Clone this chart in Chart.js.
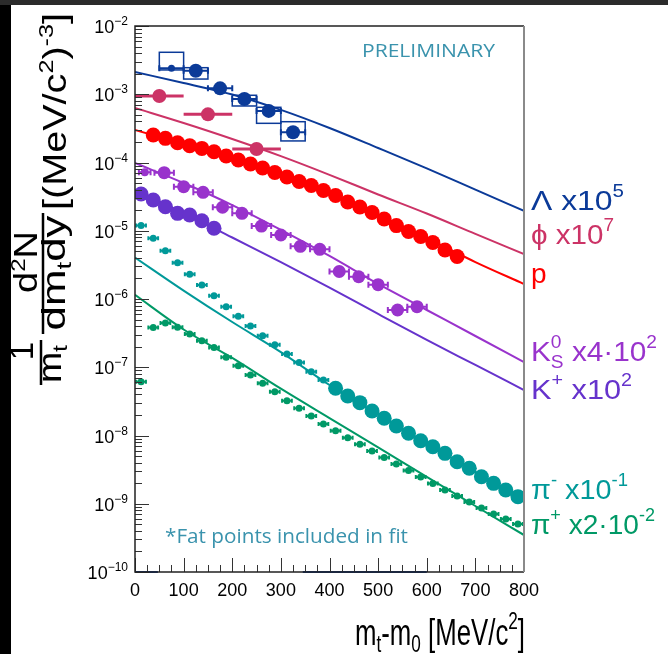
<!DOCTYPE html>
<html>
<head>
<meta charset="utf-8">
<script src="https://cdn.jsdelivr.net/npm/chart.js@4.4.1/dist/chart.umd.min.js"></script>
<style>
  html, body { margin: 0; padding: 0; }
  body { width: 668px; height: 654px; position: relative; overflow: hidden; background: #000; }
  #topbar { position: absolute; left: 0; top: 0; width: 668px; height: 5px; background: #2b2b2b; }
  #panel { position: absolute; left: 11px; top: 5px; width: 657px; height: 649px; background: #fff; }
  #spectra { position: absolute; left: 0; top: 0; }
</style>
</head>
<body>
<div id="topbar"></div>
<div id="panel"></div>
<canvas id="spectra" width="668" height="654"></canvas>
<script>
// m_t - m_0 grid used for the fit curves (MeV/c^2)
const fitX = [0, 100, 200, 300, 400, 500, 600, 700, 800];

// Lambda x10^5
const lamX = [75, 125, 175, 225, 275, 325];
const lamY = [2.40e-3, 2.21e-3, 1.22e-3, 8.5e-4, 5.7e-4, 2.77e-4];
const lamSysLo = [2.27e-3, 1.67e-3, null, 6.73e-4, 3.75e-4, 2.07e-4];
const lamSysHi = [4.12e-3, 2.45e-3, null, 9.66e-4, 6.44e-4, 3.96e-4];
const lamFit = [2.12e-3, 1.46e-3, 9.9e-4, 5.9e-4, 3.2e-4, 1.63e-4, 8.2e-5, 4.0e-5, 1.95e-5];

// phi x10^7
const phiX = [50, 150, 250];
const phiY = [9.42e-4, 5.08e-4, 1.58e-4];
const phiFit = [6.29e-4, 3.79e-4, 2.21e-4, 1.24e-4, 6.6e-5, 3.4e-5, 1.79e-5, 9.0e-6, 4.56e-6];

// protons
const pX = [37.5, 62.5, 87.5, 112.5, 137.5, 162.5, 187.5, 212.5, 237.5, 262.5, 287.5, 312.5, 337.5,
            362.5, 387.5, 412.5, 437.5, 462.5, 487.5, 512.5, 537.5, 562.5, 587.5, 612.5, 637.5, 662.5];
const pY = [2.53e-4, 2.26e-4, 1.95e-4, 1.76e-4, 1.61e-4, 1.44e-4, 1.245e-4, 1.09e-4, 9.5e-5, 8.3e-5,
            7.14e-5, 6.13e-5, 5.27e-5, 4.60e-5, 3.89e-5, 3.28e-5, 2.64e-5, 2.23e-5, 1.85e-5, 1.49e-5,
            1.19e-5, 9.75e-6, 8.24e-6, 6.73e-6, 5.22e-6, 4.20e-6];
const pFit = [2.99e-4, 1.87e-4, 1.16e-4, 6.56e-5, 3.45e-5, 1.70e-5, 7.83e-6, 3.48e-6, 1.66e-6];

// K0s x4*10^2 (first bin not used in the fit)
const ksLowX = [20];
const ksLowY = [7.18e-5];
const ksX = [60, 100, 140, 180, 220, 260, 300, 340, 380, 420, 460, 500, 540, 580];
const ksY = [7.09e-5, 4.42e-5, 3.66e-5, 2.21e-5, 1.80e-5, 1.17e-5, 8.66e-6, 5.92e-6, 5.35e-6,
             2.53e-6, 2.12e-6, 1.62e-6, 6.90e-7, 7.71e-7];
const ksFit = [9.83e-5, 5.01e-5, 2.38e-5, 1.03e-5, 4.27e-6, 1.66e-6, 6.90e-7, 2.87e-7, 1.19e-7];

// K+ x10^2
const kpX = [12.5, 37.5, 62.5, 87.5, 112.5, 137.5, 162.5];
const kpY = [3.45e-5, 2.82e-5, 2.25e-5, 1.80e-5, 1.70e-5, 1.40e-5, 1.09e-5];
const kpFit = [3.95e-5, 1.82e-5, 7.96e-6, 3.48e-6, 1.47e-6, 6.03e-7, 2.51e-7, 1.08e-7, 4.64e-8];

// pi- x10^-1 : low-mt bins (not fitted) and fitted bins
const pimLowX = [12.5, 37.5, 62.5, 87.5, 112.5, 137.5, 162.5, 187.5, 212.5, 237.5, 262.5, 287.5,
                 312.5, 337.5, 362.5, 387.5];
const pimLowY = [1.19e-5, 7.75e-6, 5.10e-6, 3.40e-6, 2.30e-6, 1.60e-6, 1.12e-6, 7.71e-7, 5.58e-7,
                 4.02e-7, 2.89e-7, 2.14e-7, 1.56e-7, 1.17e-7, 8.61e-8, 6.50e-8];
const pimX = [412.5, 437.5, 462.5, 487.5, 512.5, 537.5, 562.5, 587.5, 612.5, 637.5, 662.5, 687.5,
              712.5, 737.5, 762.5, 787.5];
const pimY = [4.92e-8, 3.79e-8, 3.03e-8, 2.29e-8, 1.79e-8, 1.38e-8, 1.08e-8, 8.39e-9, 6.85e-9,
              5.48e-9, 4.13e-9, 3.31e-9, 2.49e-9, 1.99e-9, 1.59e-9, 1.27e-9];
const pimFit = [4.06e-6, 1.33e-6, 4.60e-7, 1.67e-7, 5.50e-8, 2.03e-8, 7.63e-9, 2.92e-9, 1.135e-9];

// pi+ x2*10^-2
const pipX = [12.5, 37.5, 62.5, 87.5, 112.5, 137.5, 162.5, 187.5, 212.5, 237.5, 262.5, 287.5,
              312.5, 337.5, 362.5, 387.5, 412.5, 437.5, 462.5, 487.5, 512.5, 537.5, 562.5, 587.5,
              612.5, 637.5, 662.5, 687.5, 712.5, 737.5, 762.5, 787.5];
const pipY = [6.14e-8, 3.82e-7, 4.45e-7, 3.85e-7, 3.07e-7, 2.45e-7, 1.95e-7, 1.40e-7, 1.05e-7,
              7.70e-8, 5.82e-8, 4.38e-8, 3.24e-8, 2.50e-8, 1.93e-8, 1.47e-8, 1.175e-8, 9.29e-9,
              7.43e-9, 5.93e-9, 4.76e-9, 3.82e-9, 3.07e-9, 2.47e-9, 1.98e-9, 1.59e-9, 1.30e-9,
              1.06e-9, 8.67e-10, 7.08e-10, 5.98e-10, 5.05e-10];
const pipFit = [1.15e-6, 3.57e-7, 1.37e-7, 4.85e-8, 1.80e-8, 6.71e-9, 2.47e-9, 9.27e-10, 3.48e-10];

// empty Lambda bins lying on the lower edge of the pad
const lamEmptyX = [0, 47, 47, 345, 600];
const lamEmptyY = [1e-10, 1e-10, null, 1e-10, 1e-10];

// axis labels
const xTickLabels = ['0', '100', '200', '300', '400', '500', '600', '700', '800'];
const yTickPowers = [-2, -3, -4, -5, -6, -7, -8, -9, -10];

const COL = {
  lam: '#0b3a98', phi: '#cc3366', p: '#ff0000', ks: '#9933cc',
  kp: '#6633cc', pim: '#009999', pip: '#009966', note: '#3a93ad'
};
const ROOTFONT = '"Liberation Sans", Arial, sans-serif';
const NOTEFONT = '"Open Sans", "Noto Sans", sans-serif';

const pts = (xs, ys) => xs.map((x, i) => ({ x: x, y: ys[i] }));

function fitLine(ys, color) {
  return {
    type: 'line', data: pts(fitX, ys), borderColor: color, borderWidth: 2,
    pointRadius: 0, fill: false, cubicInterpolationMode: 'monotone', order: 2
  };
}
function markers(xs, ys, color, r, extra) {
  return Object.assign({
    type: 'scatter', data: pts(xs, ys), backgroundColor: color, borderColor: color,
    borderWidth: 0, pointRadius: r, pointHoverRadius: r, order: 1
  }, extra || {});
}

// horizontal error bars and systematic boxes, drawn under the markers
const errorBars = {
  id: 'errorBars',
  beforeDatasetsDraw(chart) {
    const c = chart.ctx, sx = chart.scales.x, sy = chart.scales.y, a = chart.chartArea;
    c.save();
    c.beginPath();
    c.rect(a.left, a.top, a.right - a.left, a.bottom - a.top);
    c.clip();
    chart.data.datasets.forEach(ds => {
      if (ds.sysLo) {
        c.strokeStyle = ds.borderColor;
        c.lineWidth = 1.5;
        ds.data.forEach((p, i) => {
          if (ds.sysLo[i] == null) return;
          const x0 = sx.getPixelForValue(p.x - 25), x1 = sx.getPixelForValue(p.x + 25);
          const y0 = sy.getPixelForValue(ds.sysHi[i]), y1 = sy.getPixelForValue(ds.sysLo[i]);
          c.strokeRect(x0, y0, x1 - x0, y1 - y0);
        });
      }
      if (!ds.xErr) return;
      c.strokeStyle = ds.borderColor;
      c.lineWidth = ds.barWidth || 2;
      ds.data.forEach(p => {
        const py = sy.getPixelForValue(p.y);
        const x0 = sx.getPixelForValue(p.x - ds.xErr), x1 = sx.getPixelForValue(p.x + ds.xErr);
        c.beginPath();
        c.moveTo(x0, py);
        c.lineTo(x1, py);
        if (ds.cap) {
          c.moveTo(x0, py - ds.cap); c.lineTo(x0, py + ds.cap);
          c.moveTo(x1, py - ds.cap); c.lineTo(x1, py + ds.cap);
        }
        c.stroke();
      });
    });
    c.restore();
  }
};

// draws a run of [text, size, raise, extraGap] pieces; optional target width squeezes/stretches it
function richText(c, parts, x, y, opt) {
  opt = opt || {};
  const font = opt.font || ROOTFONT;
  let w = 0;
  parts.forEach(p => { c.font = p[1] + 'px ' + font; w += c.measureText(p[0]).width + (p[3] || 0); });
  const sx = opt.width ? opt.width / w : 1;
  const sy = opt.sy || 1;
  let x0 = 0;
  if (opt.align === 'right') x0 = -w;
  if (opt.align === 'center') x0 = -w / 2;
  c.save();
  c.translate(x, y);
  if (opt.rotate) c.rotate(opt.rotate);
  c.scale(sx, sy);
  c.fillStyle = opt.color || '#000';
  c.textBaseline = 'alphabetic';
  parts.forEach(p => {
    c.font = p[1] + 'px ' + font;
    c.fillText(p[0], x0, -(p[2] || 0));
    x0 += c.measureText(p[0]).width + (p[3] || 0);
  });
  c.restore();
}

// frame, inward ticks and all the text around the pad
const decorations = {
  id: 'decorations',
  afterDatasetsDraw(chart) {
    const c = chart.ctx, sx = chart.scales.x, sy = chart.scales.y, a = chart.chartArea;
    c.save();
    c.lineWidth = 1;
    c.strokeStyle = '#333';
    c.beginPath();
    // y ticks
    yTickPowers.forEach(n => {
      const y = Math.round(sy.getPixelForValue(Math.pow(10, n))) + 0.5;
      c.moveTo(a.left, y); c.lineTo(a.left + 14, y);
      for (let k = 2; k <= 9 && n < -2; k++) {
        const ym = Math.round(sy.getPixelForValue(k * Math.pow(10, n))) + 0.5;
        c.moveTo(a.left, ym); c.lineTo(a.left + 7, ym);
      }
    });
    // x ticks
    for (let v = 0; v <= 800; v += 25) {
      const x = Math.round(sx.getPixelForValue(v)) + 0.5;
      const len = v % 100 === 0 ? 14 : 7;
      c.moveTo(x, a.bottom); c.lineTo(x, a.bottom - len);
    }
    c.stroke();
    // frame
    c.lineWidth = 1.5;
    c.strokeStyle = '#222';
    c.beginPath();
    c.moveTo(a.right, a.top); c.lineTo(a.left, a.top); c.lineTo(a.left, a.bottom); c.lineTo(a.right, a.bottom);
    c.stroke();
    c.strokeStyle = '#8a8a8a';
    c.lineWidth = 2;
    c.beginPath();
    c.moveTo(a.right, a.top); c.lineTo(a.right, a.bottom);
    c.stroke();
    c.restore();
  },
  afterDraw(chart) {
    const c = chart.ctx, sx = chart.scales.x, sy = chart.scales.y, a = chart.chartArea;
    // tick labels
    yTickPowers.forEach(n => {
      const y = sy.getPixelForValue(Math.pow(10, n));
      richText(c, [['10', 18], ['\u2212' + (-n), 12, 8]], a.left - 7, y + 7, { align: 'right' });
    });
    xTickLabels.forEach(t => {
      richText(c, [[t, 18]], sx.getPixelForValue(+t), a.bottom + 24, { align: 'center' });
    });

    // axis titles
    richText(c, [['m', 30], ['t', 20, -6], ['-m', 30], ['0', 20, -6], [' [MeV/c', 30], ['2', 20, 13], [']', 30]],
      355, 645, { width: 170, sy: 1.2 });

    const R = -Math.PI / 2;
    richText(c, [['1', 33]], 33, 351, { rotate: R, align: 'center' });
    richText(c, [['m', 33], ['t', 21, -6]], 61, 364, { rotate: R, align: 'center', width: 38 });
    richText(c, [['d', 33], ['2', 21, 12], ['N', 33]], 37, 262, { rotate: R, align: 'center', width: 62 });
    richText(c, [['dm', 33], ['t', 21, -6], ['dy', 33]], 65, 273, { rotate: R, align: 'center', width: 115 });
    c.save();
    c.strokeStyle = '#000';
    c.lineWidth = 2.5;
    c.beginPath();
    c.moveTo(41, 385); c.lineTo(41, 340);
    c.moveTo(43, 334); c.lineTo(43, 213);
    c.stroke();
    c.restore();
    richText(c, [['[(MeV/c', 33], ['2', 21, 13], [')', 33], ['-3', 21, 13], [']', 33]], 66, 210,
      { rotate: R, width: 197 });

    // species labels and scale factors
    const sp = 28, ss = 18;
    richText(c, [['\u039b x10', sp], ['5', ss, 13]], 531, 210, { color: COL.lam, width: 93 });
    richText(c, [['\u03d5 x10', sp], ['7', ss, 13]], 531, 244, { color: COL.phi, width: 83 });
    richText(c, [['p', sp]], 531, 283, { color: COL.p });
    richText(c, [['K', sp], ['0', ss, 13, -10], ['S', ss, -7], [' x4\u00b710', sp], ['2', ss, 13]], 531, 361,
      { color: COL.ks, width: 126 });
    richText(c, [['K', sp], ['+', ss, 13], [' x10', sp], ['2', ss, 13]], 531, 399, { color: COL.kp, width: 101 });
    richText(c, [['\u03c0', sp], ['-', ss, 13], [' x10', sp], ['-1', ss, 13]], 531, 499, { color: COL.pim, width: 97 });
    richText(c, [['\u03c0', sp], ['+', ss, 13], [' x2\u00b710', sp], ['-2', ss, 13]], 531, 534, { color: COL.pip, width: 124 });

    // notes inside the pad
    richText(c, [['PRELIMINARY', 19]], 362, 57, { font: NOTEFONT, color: COL.note, width: 133 });
    richText(c, [['*Fat points included in fit', 20]], 165, 543, { font: NOTEFONT, color: COL.note, width: 243 });
  }
};

const ctx = document.getElementById('spectra').getContext('2d');
const spectra = new Chart(ctx, {
  type: 'scatter',
  data: {
    datasets: [
      { type: 'line', data: pts(lamEmptyX, lamEmptyY), borderColor: COL.lam, borderWidth: 2,
        pointRadius: 0, spanGaps: false, clip: false, order: 3 },
      fitLine(lamFit, COL.lam),
      fitLine(phiFit, COL.phi),
      fitLine(pFit, COL.p),
      fitLine(ksFit, COL.ks),
      fitLine(kpFit, COL.kp),
      fitLine(pimFit, COL.pim),
      fitLine(pipFit, COL.pip),
      markers([lamX[0]], [lamY[0]], COL.lam, 3.5, { xErr: 25, cap: 3 }),
      markers(lamX.slice(1), lamY.slice(1), COL.lam, 7, { xErr: 25, cap: 3 }),
      { type: 'scatter', data: pts(lamX, lamY), pointRadius: 0, borderColor: COL.lam,
        sysLo: lamSysLo, sysHi: lamSysHi, order: 3 },
      markers(phiX, phiY, COL.phi, 7, { xErr: 50, barWidth: 3 }),
      markers(pX, pY, COL.p, 7.5),
      markers(ksLowX, ksLowY, COL.ks, 4, { xErr: 12, cap: 3 }),
      markers(ksX, ksY, COL.ks, 6.5, { xErr: 20, cap: 3 }),
      markers(kpX, kpY, COL.kp, 7.5),
      markers(pimLowX, pimLowY, COL.pim, 3.5, { xErr: 10, cap: 2 }),
      markers(pimX, pimY, COL.pim, 7.5),
      markers(pipX, pipY, COL.pip, 3.5, { xErr: 10, cap: 2 })
    ]
  },
  options: {
    responsive: false,
    animation: false,
    devicePixelRatio: 1,
    layout: { padding: { left: 135, top: 26, right: 144, bottom: 82 } },
    plugins: { legend: { display: false }, tooltip: { enabled: false } },
    scales: {
      x: {
        type: 'linear', min: 0, max: 800,
        ticks: { display: false }, grid: { display: false }, border: { display: false },
        afterFit: s => { s.height = 0; }
      },
      y: {
        type: 'logarithmic', min: 1e-10, max: 1e-2,
        ticks: { display: false }, grid: { display: false }, border: { display: false },
        afterFit: s => { s.width = 0; }
      }
    }
  },
  plugins: [errorBars, decorations]
});
</script>
</body>
</html>
